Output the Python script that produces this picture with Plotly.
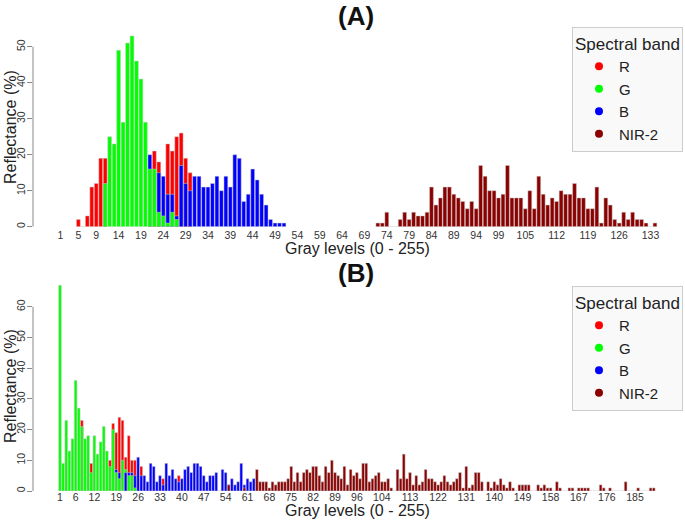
import plotly.graph_objects as go

# ---------------- data ----------------
bands = ["R", "G", "B", "NIR-2"]
band_colors = ["#FF0000", "#00FF00", "#0000FF", "#8B0000"]

# Panel (A): gray levels 1..134
a_levels = list(range(1, 135))
a_R_start = 5
a_R = [2, 0, 3, 11, 12, 19, 19] + [None] * 10 + [21, 18, None, 23, 21, 25, 26, 19, 15]
a_G_start = 11
a_G = [12, 25, 23, 49, 29, 51, 53, 46, 41, 29, 16, 16, 4, 3, 1, 4, 2]
a_B_start = 21
a_B = [20, None, 15, 14, 9, 9, 3, 17, 12, 10, 14, 14, 11, 11, 12, 14, 10, 14, 11, 20,
       19, 7, 9, 16, 13, 9, 6, 2, 1, 1, 1]
a_N_start = 72
a_N = [1, 1, 4, 0, 0, 2, 4, 2, 4, 3, 3, 4, 11, 6, 8, 11, 11, 9, 8, 7, 5, 7, 5,
       17, 14, 10, 10, 8, 9, 17, 8, 8, 8, 5, 10, 5, 14, 9, 6, 8, 7,
       10, 9, 9, 12, 8, 8, 5, 5, 11, 1, 8, 6, 2, 1, 4, 2, 4, 2, 2, 1, 0, 1]
a_ticks = [1, 5, 9, 14, 19, 24, 29, 34, 39, 44, 49, 54, 59, 64, 69, 74, 79, 84, 89, 94,
           99, 105, 112, 119, 126, 133]

# Panel (B): gray levels 1..191
b_levels = list(range(1, 192))
b_G_start = 1
b_G = [67, 9, 23, 13, 17, 36, 27, 21, 17, 18, 6, 18, 12, 16, 21, 13, 8, 20, 6, 4, 10, 7, 5, 5, 1]
b_R_start = 8
b_R = [23, None, None, 9, None, None, None, None, None, 10, 22, 19, 24, 23, 11, 18, 10, 10,
       None, 8, None, None, None, None, None, None, 4, None, None, None, None, 5]
b_B_start = 19
b_B = [7, 6, None, 6, 6, 6, 5, 11, 5, 5, 3, 9, 8, 3, 5, 2, 9, 5, 7, 4, 3, 4, 7, 8, 6, 9, 9,
       8, 5, 3, 5, 5, 6, 0, 7, 6, 2, 4, 2, 3, 9, 2, 4, 3, 4]
b_N_start = 55
b_N = [2, None, None, None, None, 1, None, None, None,
       7, 3, 3, 3, 1, 3, 2, 3, 3, 3, 4, 8, 3, 6, 3, 6, 7, 6, 8, 8, 5, 3, 8, 6, 10, 6, 5, 4,
       8, 2, 7, 5, 6, 4, 9, 9, 3, 4, 5, 6, 3, 3, 4, 1, 0, 7, 4, 12, 4, 6, 2, 5, 2, 3, 7, 4,
       4, 3, 2, 3, 5, 3, 2, 3, 4, 6, 1, 8, 1, 2, 6, 6, 3, 0, 3, 1, 3, 2, 4, 2, 1, 3, 1, 0,
       2, 2, 2, 2, 0, 0, 2, 1, 2, 1, 1, 0, 3, 1, 0, 0, 1, 1, 0, 1, 1, 1, 1, 0, 0, 0, 2, 1,
       0, 1, 0, 0, 0, 0, 3, 0, 0, 0, 1, 0, 0, 0, 1, 1]
b_ticks = [1, 6, 12, 19, 26, 33, 40, 47, 54, 61, 68, 75, 82, 89, 96, 104, 113, 122, 131,
           140, 149, 158, 167, 176, 185]


def expand(levels, start, vals):
    full = [None] * len(levels)
    for k, v in enumerate(vals):
        full[start - levels[0] + k] = v
    return full


W, H = 685, 521
FONT = "Liberation Sans, Arial, sans-serif"
fig = go.Figure()


def add_panel(levels, series, xa, ya):
    # overlay bars: at every level the tallest is drawn first, smaller ones in front
    ranked = [[] for _ in bands]
    for i, lv in enumerate(levels):
        items = [(series[b][i], c) for b, c in zip(bands, band_colors) if series[b][i] is not None]
        items.sort(key=lambda t: -t[0])
        for r, (v, c) in enumerate(items):
            ranked[r].append((lv, v, c))
    for grp in ranked:
        if not grp:
            continue
        fig.add_trace(go.Bar(
            x=[g[0] for g in grp], y=[g[1] for g in grp],
            marker=dict(color=[g[2] for g in grp], line=dict(color="#c8c8c8", width=0.5)),
            showlegend=False, hoverinfo="skip", xaxis=xa, yaxis=ya))


a_series = {"R": expand(a_levels, a_R_start, a_R), "G": expand(a_levels, a_G_start, a_G),
            "B": expand(a_levels, a_B_start, a_B), "NIR-2": expand(a_levels, a_N_start, a_N)}
b_series = {"R": expand(b_levels, b_R_start, b_R), "G": expand(b_levels, b_G_start, b_G),
            "B": expand(b_levels, b_B_start, b_B), "NIR-2": expand(b_levels, b_N_start, b_N)}
add_panel(a_levels, a_series, "x", "y")
add_panel(b_levels, b_series, "x2", "y2")

for lg, xa, ya in (("legend", "x", "y"), ("legend2", "x2", "y2")):
    for b, c in zip(bands, band_colors):
        fig.add_trace(go.Scatter(x=[None], y=[None], mode="markers", name=b,
                                 marker=dict(color=c, size=8), legend=lg, xaxis=xa, yaxis=ya))

xl, xr = 33 / W, 680 / W
axis_common = dict(showgrid=False, zeroline=False, showline=False)
tickfont = dict(size=10.5, color="#333")
legend_common = dict(xanchor="right", yanchor="top", bgcolor="#f9f9f9",
                     bordercolor="#cccccc", borderwidth=1, font=dict(size=15),
                     title=dict(text="Spectral band", font=dict(size=17)), indentation=6)
ann_common = dict(xref="paper", yref="paper", showarrow=False, xanchor="center", yanchor="middle")

fig.update_layout(
    width=W, height=H, margin=dict(l=0, r=0, t=0, b=0),
    paper_bgcolor="white", plot_bgcolor="white",
    barmode="overlay", bargap=0.15,
    font=dict(family=FONT, color="#222"),
    xaxis=dict(domain=[xl, xr], anchor="y", range=[-5.15, 139.6], tickmode="array",
               tickvals=a_ticks, ticktext=[str(t) for t in a_ticks], ticks="",
               tickfont=tickfont, ticklabelstandoff=1, **axis_common),
    yaxis=dict(domain=[1 - 226.7 / H, 1 - 28.7 / H], anchor="x", range=[0, 55],
               tickvals=[0, 10, 20, 30, 40, 50], ticks="outside", ticklen=5, tickcolor="#888",
               tickangle=-90, tickfont=tickfont, ticklabelstandoff=-2, **axis_common),
    xaxis2=dict(domain=[xl, xr], anchor="y2", range=[-7.64, 199.4], tickmode="array",
                tickvals=b_ticks, ticktext=[str(t) for t in b_ticks], ticks="",
                tickfont=tickfont, ticklabelstandoff=-2, **axis_common),
    yaxis2=dict(domain=[1 - 491 / H, 1 - 281 / H], anchor="x2", range=[0, 68.4],
                tickvals=[0, 10, 20, 30, 40, 50, 60], ticks="outside", ticklen=5,
                tickcolor="#888", tickangle=-90, tickfont=tickfont, ticklabelstandoff=-2,
                **axis_common),
    legend=dict(x=683 / W, y=1 - 27 / H, **legend_common),
    legend2=dict(x=683 / W, y=1 - 286 / H, **legend_common),
    shapes=[
        dict(type="line", xref="x domain", yref="y", x0=0, x1=0, y0=0, y1=50,
             line=dict(color="#888", width=1)),
        dict(type="line", xref="x2 domain", yref="y2", x0=0, x1=0, y0=0, y1=60,
             line=dict(color="#888", width=1)),
    ],
    annotations=[
        dict(text="<b>(A)</b>", x=356 / W, y=1 - 16 / H, font=dict(size=26, color="#111"), **ann_common),
        dict(text="<b>(B)</b>", x=356 / W, y=1 - 273 / H, font=dict(size=26, color="#111"), **ann_common),
        dict(text="Gray levels (0 - 255)", x=357 / W, y=1 - 248 / H, font=dict(size=16), **ann_common),
        dict(text="Gray levels (0 - 255)", x=357 / W, y=1 - 510 / H, font=dict(size=16), **ann_common),
        dict(text="Reflectance (%)", x=10 / W, y=1 - 127 / H, textangle=-90,
             font=dict(size=16), **ann_common),
        dict(text="Reflectance (%)", x=10 / W, y=1 - 386 / H, textangle=-90,
             font=dict(size=16), **ann_common),
    ],
)

fig.write_html("out.html", config={"displayModeBar": False},
               post_script="document.body.style.margin='0';")
